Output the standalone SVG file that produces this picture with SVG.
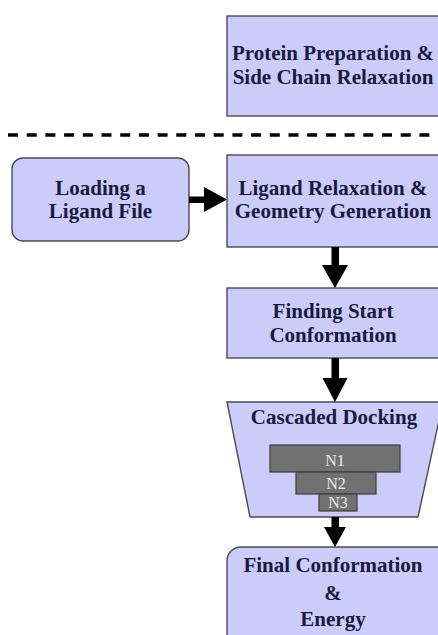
<svg xmlns="http://www.w3.org/2000/svg" width="438" height="635" viewBox="0 0 438 635">
<defs>
<style>
.box{fill:#ccccfa;stroke:#4a4a55;stroke-width:1.4}
.t{font-family:"Liberation Serif","Times New Roman",serif;font-weight:bold;font-size:21px;fill:#1a1a40;text-anchor:middle}
.nb{fill:#717171;stroke:#3c3c3c;stroke-width:1.2}
.nt{font-family:"Liberation Serif","Times New Roman",serif;font-size:16px;fill:#ececec;text-anchor:middle}
.ar{fill:#000}
</style>
</defs>
<rect width="438" height="635" fill="#fff"/>
<line x1="8" y1="135" x2="432" y2="135" stroke="#000" stroke-width="3.5" stroke-dasharray="10 8.7"/>
<g id="protein">
<rect class="box" x="227" y="16" width="216" height="100"/>
<text class="t" x="333" y="60">Protein Preparation &amp;</text>
<text class="t" x="333" y="84">Side Chain Relaxation</text>
</g>
<g id="loading">
<rect class="box" x="12" y="158" width="177" height="83" rx="11"/>
<text class="t" x="100.5" y="195">Loading a</text>
<text class="t" x="100.5" y="218">Ligand File</text>
</g>
<g id="relax">
<rect class="box" x="227" y="155" width="216" height="92"/>
<text class="t" x="333" y="195">Ligand Relaxation &amp;</text>
<text class="t" x="333" y="218">Geometry Generation</text>
</g>
<g id="finding">
<rect class="box" x="227" y="288" width="216" height="70"/>
<text class="t" x="333" y="318">Finding Start</text>
<text class="t" x="333" y="342">Conformation</text>
</g>
<g id="cascaded">
<polygon class="box" points="227,402 443,402 418,517 250,517"/>
<text class="t" x="334" y="424">Cascaded Docking</text>
<rect class="nb" x="270" y="445" width="130" height="27"/>
<text class="nt" x="335" y="466">N1</text>
<rect class="nb" x="296" y="472" width="80" height="22"/>
<text class="nt" x="336" y="489">N2</text>
<rect class="nb" x="319" y="494" width="38" height="17"/>
<text class="nt" x="338" y="508" font-size="14">N3</text>
</g>
<g id="final">
<rect class="box" x="227" y="547" width="230" height="110" rx="14"/>
<text class="t" x="333" y="572">Final Conformation</text>
<text class="t" x="333" y="600">&amp;</text>
<text class="t" x="333" y="626">Energy</text>
</g>
<g id="connectors">
<path class="ar" d="M189,196.5 H204 V187 L227,199.5 L204,212 V203 H189 Z"/>
<path class="ar" d="M331.5,247 H339 V265 H348 L335,288 L322,265 H331.5 Z"/>
<path class="ar" d="M331.5,358 H339 V378 H347.5 L335,402 L322.5,378 H331.5 Z"/>
<path class="ar" d="M331.5,517 H339 V527 H346 L335,547 L324,527 H331.5 Z"/>
</g>
</svg>
